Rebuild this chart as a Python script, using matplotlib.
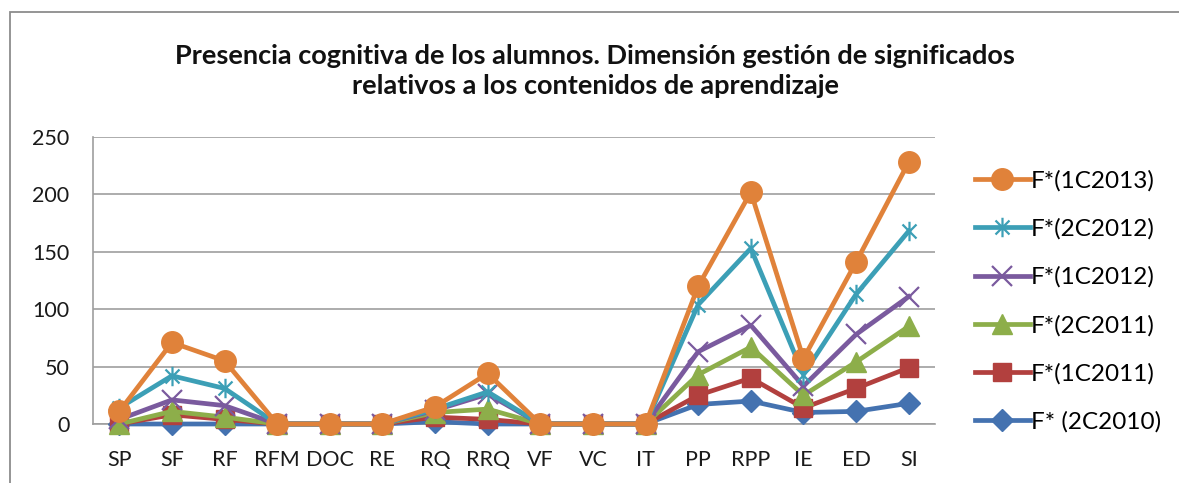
import matplotlib
matplotlib.use("Agg")
import matplotlib.pyplot as plt
from matplotlib.path import Path
from matplotlib.patches import Rectangle

categories = ["SP", "SF", "RF", "RFM", "DOC", "RE", "RQ", "RRQ", "VF", "VC", "IT",
              "PP", "RPP", "IE", "ED", "SI"]

f_2c2010 = [0, 0, 0, 0, 0, 0, 2, 0, 0, 0, 0, 17, 20, 10, 11, 18]
f_1c2011 = [0, 8, 4, 0, 0, 0, 6, 4, 0, 0, 0, 25, 40, 14, 31, 49]
f_2c2011 = [0, 11, 6, 0, 0, 0, 10, 13, 0, 0, 0, 43, 67, 25, 54, 85]
f_1c2012 = [4, 21, 16, 0, 0, 0, 12, 26, 0, 0, 0, 63, 86, 33, 78, 111]
f_2c2012 = [14, 42, 31, 0, 0, 0, 13, 28, 0, 0, 0, 104, 153, 43, 113, 168]
f_1c2013 = [11, 71, 55, 0, 0, 0, 15, 44, 0, 0, 0, 120, 202, 57, 141, 228]

series_labels = ["F* (2C2010)", "F*(1C2011)", "F*(2C2011)", "F*(1C2012)", "F*(2C2012)", "F*(1C2013)"]
yticks = [0, 50, 100, 150, 200, 250]

title = "Presencia cognitiva de los alumnos. Dimensión gestión de significados\nrelativos a los contenidos de aprendizaje"

plt.rcParams['font.family'] = ['Lato', 'DejaVu Sans']

W, H = 1179, 483
fig = plt.figure(figsize=(W / 100, H / 100), dpi=100)

# chart border (cropped on right/bottom)
fig.patches.append(Rectangle((10 / W, -0.1), 1.2, (H - 12) / H + 0.1, transform=fig.transFigure,
                             fill=False, edgecolor="#8c8c8c", linewidth=1.3, zorder=0))

ax = fig.add_axes([93 / W, (H - 424) / H, (935 - 93) / W, (424 - 137) / H])

star = Path([(0, -1), (0, 1), (-0.72, -0.72), (0.72, 0.72), (-0.72, 0.72), (0.72, -0.72)],
            [Path.MOVETO, Path.LINETO] * 3)

styles = [
    dict(color="#4472B0", marker="D", markersize=11),
    dict(color="#B2403E", marker="s", markersize=13),
    dict(color="#8DAE4A", marker="^", markersize=15),
    dict(color="#7A5A9E", marker="x", markersize=14, markeredgewidth=1.6),
    dict(color="#3C9FB6", marker=star, markersize=14, markeredgewidth=1.6),
    dict(color="#E0823A", marker="o", markersize=15.5),
]
data = [f_2c2010, f_1c2011, f_2c2011, f_1c2012, f_2c2012, f_1c2013]
x = list(range(len(categories)))
handles = []
for i, (vals, lab, st) in enumerate(zip(data, series_labels, styles)):
    h, = ax.plot(x, vals, linewidth=3.4, label=lab, zorder=3 + i, clip_on=False, **st)
    handles.append(h)

ax.set_xlim(-0.5, len(categories) - 0.5)
ax.set_ylim(0, 250)
ax.set_yticks(yticks)
ax.set_xticks(x)
ax.set_xticklabels(categories)
ax.tick_params(axis="both", length=0, labelsize=15.5, colors="#1a1a1a")
ax.tick_params(axis="y", pad=17)
ax.tick_params(axis="x", pad=19)
ax.yaxis.grid(True, color="#9e9e9e", linewidth=1.2)
ax.set_axisbelow(True)
for s in ["top", "right"]:
    ax.spines[s].set_visible(False)
for s in ["left", "bottom"]:
    ax.spines[s].set_color("#9e9e9e")
    ax.spines[s].set_linewidth(1.2)

fig.text(595 / W, 1 - 71 / H, title, ha="center", va="center", fontsize=19.5,
         fontweight="bold", linespacing=1.3, color="#111111")

fig.legend(handles[::-1], series_labels[::-1], loc="upper left",
           bbox_to_anchor=(975 / W, 1 - 170 / H), frameon=False, fontsize=17.5,
           handlelength=2.25, handletextpad=0.05, labelspacing=1.1, borderpad=0,
           borderaxespad=0)

fig.savefig("out.png", dpi=100)
